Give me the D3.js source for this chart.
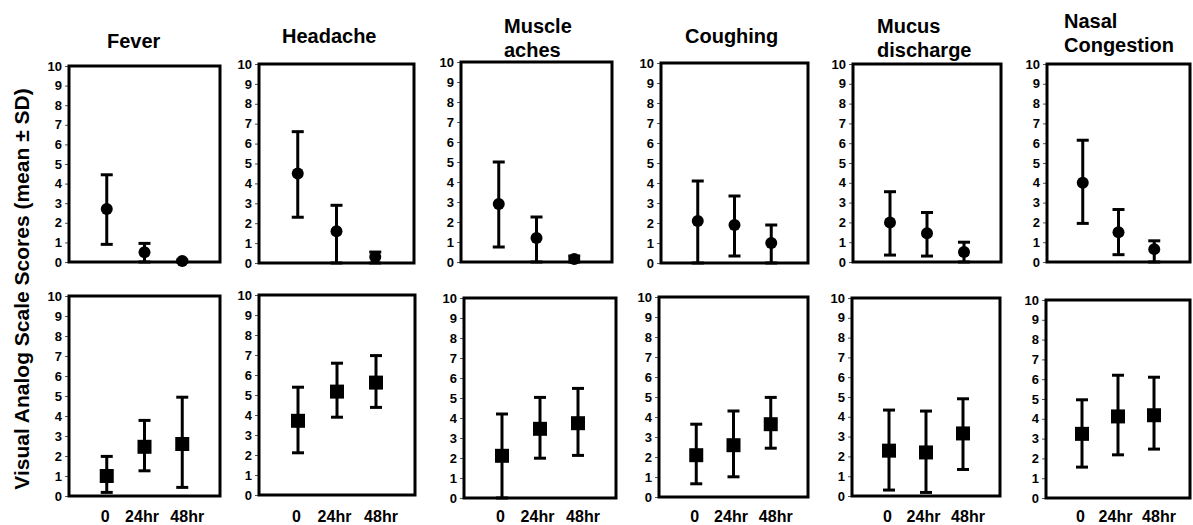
<!DOCTYPE html>
<html>
<head>
<meta charset="utf-8">
<script src="https://cdn.jsdelivr.net/npm/d3@7"></script>
<style>
  body { margin: 0; background: #fff; }
  svg { display: block; font-family: "Liberation Sans", Arial, sans-serif; }
</style>
</head>
<body>
<svg id="chart" width="1193" height="525"></svg>
<script>
// symptom panels, left to right
const titleLines = [["Fever"], ["Headache"], ["Muscle", "aches"], ["Coughing"], ["Mucus", "discharge"], ["Nasal", "Congestion"]];
const timepoints = ["0", "24hr", "48hr"];
const yTicks = [0, 1, 2, 3, 4, 5, 6, 7, 8, 9, 10];

// top row (circles): mean, lower and upper end of the SD bar
const topMean = [[2.7, 0.5, 0.05], [4.5, 1.6, 0.3], [2.9, 1.2, 0.15], [2.1, 1.9, 1.0], [2.0, 1.45, 0.5], [4.0, 1.5, 0.65]];
const topLow  = [[0.9, 0, 0], [2.3, 0, 0], [0.75, 0, 0], [0, 0.35, 0], [0.35, 0.3, 0], [1.95, 0.37, 0]];
const topHigh = [[4.45, 0.95, 0.1], [6.6, 2.9, 0.55], [5.0, 2.25, 0.3], [4.1, 3.35, 1.9], [3.55, 2.5, 1.0], [6.15, 2.65, 1.07]];

// bottom row (squares)
const botMean = [[1.0, 2.46, 2.6], [3.71, 5.17, 5.62], [2.11, 3.46, 3.74], [2.09, 2.59, 3.64], [2.29, 2.2, 3.16], [3.24, 4.12, 4.18]];
const botLow  = [[0.18, 1.26, 0.43], [2.11, 3.89, 4.38], [0, 1.99, 2.13], [0.66, 1.01, 2.44], [0.3, 0.18, 1.34], [1.56, 2.18, 2.47]];
const botHigh = [[1.98, 3.78, 4.94], [5.39, 6.59, 6.97], [4.2, 5.03, 5.48], [3.64, 4.3, 4.98], [4.34, 4.29, 4.91], [4.96, 6.2, 6.1]];

// frame boxes of each panel (left, right, top, bottom)
const topBoxes = [[69, 220, 66, 262], [259, 414, 64, 263], [461, 612, 62, 262], [661, 808, 63, 263], [853, 1001, 64, 262], [1047, 1190, 64, 262]];
const botBoxes = [[69, 220, 296, 496], [259, 415, 295, 495], [464, 616, 298, 498], [659, 808, 297, 497], [852, 1000, 298, 496], [1046, 1190, 300, 498]];
// title position: left x and baseline of first line
const titlePos = [[107, 48], [282, 43], [504, 33], [685, 43], [877, 33], [1064, 28]];
// small nudge of the time labels, as in the original
const xLabelShift = [-1.5, -2.5, 5];

const svg = d3.select("#chart");

function drawPanel(box, mean, low, high, shape, showX) {
    const [l, r, t, b] = box;
    const x = d3.scalePoint().domain(timepoints).range([l, r]).padding(1);
    const y = d3.scaleLinear().domain([0, 10]).range([b, t]);
    const g = svg.append("g");

    const ax = g.append("g")
        .attr("transform", `translate(${l},0)`)
        .call(d3.axisLeft(y).tickValues(yTicks).tickSize(4).tickPadding(3));
    ax.select(".domain").remove();
    ax.selectAll(".tick line").attr("stroke", "#555").attr("stroke-width", 1);
    ax.selectAll(".tick text")
        .attr("fill", "#000")
        .style("font-family", "'Liberation Sans', Arial, sans-serif")
        .style("font-size", "13px").style("font-weight", "bold");

    if (showX) {
        g.selectAll(".xlab").data(timepoints).join("text")
            .attr("x", (d, i) => x(d) + xLabelShift[i]).attr("y", 522)
            .attr("text-anchor", "middle")
            .style("font-size", "16px").style("font-weight", "bold")
            .text(d => d);
    }

    const pts = timepoints.map((tp, i) => ({ tp, m: mean[i], lo: low[i], hi: high[i] }));
    const bars = g.selectAll(".bar").data(pts).join("g");
    bars.append("line")
        .attr("x1", d => x(d.tp)).attr("x2", d => x(d.tp))
        .attr("y1", d => y(d.lo)).attr("y2", d => y(d.hi))
        .attr("stroke", "#000").attr("stroke-width", 3);
    bars.append("line")
        .attr("x1", d => x(d.tp) - 6).attr("x2", d => x(d.tp) + 6)
        .attr("y1", d => y(d.hi)).attr("y2", d => y(d.hi))
        .attr("stroke", "#000").attr("stroke-width", 3);
    bars.append("line")
        .attr("x1", d => x(d.tp) - 6).attr("x2", d => x(d.tp) + 6)
        .attr("y1", d => y(d.lo)).attr("y2", d => y(d.lo))
        .attr("stroke", "#000").attr("stroke-width", 3);
    if (shape === "circle") {
        bars.append("circle")
            .attr("cx", d => x(d.tp)).attr("cy", d => y(d.m)).attr("r", 6)
            .attr("fill", "#000");
    } else {
        bars.append("rect")
            .attr("x", d => x(d.tp) - 7).attr("y", d => y(d.m) - 7)
            .attr("width", 14).attr("height", 14)
            .attr("fill", "#000");
    }

    g.append("rect")
        .attr("x", l).attr("y", t).attr("width", r - l).attr("height", b - t)
        .attr("fill", "none").attr("stroke", "#000").attr("stroke-width", 3);
}

titleLines.forEach((lines, i) => {
    drawPanel(topBoxes[i], topMean[i], topLow[i], topHigh[i], "circle", false);
    drawPanel(botBoxes[i], botMean[i], botLow[i], botHigh[i], "square", true);
    const tt = svg.append("text")
        .attr("x", titlePos[i][0]).attr("y", titlePos[i][1])
        .style("font-size", "20px").style("font-weight", "bold");
    lines.forEach((line, k) => {
        tt.append("tspan").attr("x", titlePos[i][0]).attr("dy", k === 0 ? 0 : 24).text(line);
    });
});

svg.append("text")
    .attr("transform", "translate(29,289) rotate(-90)")
    .attr("text-anchor", "middle")
    .style("font-size", "21px").style("font-weight", "bold")
    .text("Visual Analog Scale Scores (mean ± SD)");
</script>
</body>
</html>
